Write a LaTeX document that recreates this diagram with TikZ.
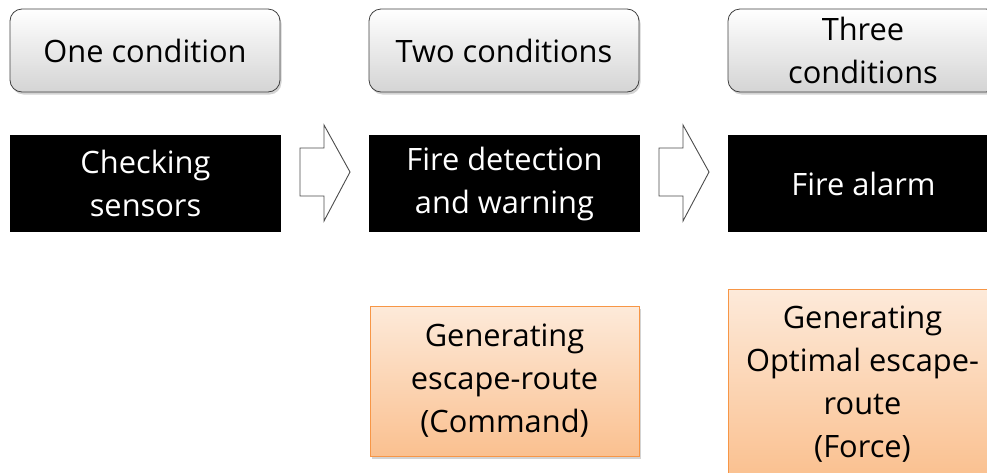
\documentclass[tikz,border=0pt]{standalone}
\usepackage{fontspec}
\setmainfont{Open Sans}
\usetikzlibrary{shadows,calc}
\definecolor{orborder}{HTML}{F79646}
\definecolor{ortop}{HTML}{FDEADA}
\definecolor{orbot}{HTML}{FAC08F}
\definecolor{grbot}{HTML}{D4D4D4}
\begin{document}
\begin{tikzpicture}[x=1pt,y=-1pt,
  txt/.style={font=\fontsize{30.8}{43}\selectfont, align=center, inner sep=0pt},
  cond/.style={txt, draw=black!75, line width=0.8pt, rounded corners=12pt,
    top color=white, bottom color=grbot, minimum width=270pt, minimum height=83pt,
    drop shadow={shadow xshift=1.5pt, shadow yshift=-2.5pt, opacity=0.35}},
  blk/.style={txt, fill=black, text=white, minimum width=271pt, minimum height=97pt},
  orng/.style={txt, draw=orborder, line width=0.8pt, top color=ortop, bottom color=orbot,
    minimum width=269pt,
    drop shadow={shadow xshift=2pt, shadow yshift=-3pt, opacity=0.35}},
  blockarrow/.style={draw=black!70, line width=0.9pt, fill=white}
]
\useasboundingbox (0,0) rectangle (987,472);
\clip (0,0) rectangle (987,472);

\node[cond] (c1) at (145,50.5) {One condition};
\node[cond] (c2) at (504,50.5) {Two conditions};
\node[cond] (c3) at (863,50.5) {Three\\conditions};

\node[blk] (b1) at (145.5,183.5) {Checking\\sensors};
\node[blk] (b2) at (504.5,183.5) {Fire detection\\and warning};
\node[blk] (b3) at (863.5,183.5) {Fire alarm};

\node[orng, minimum height=150pt] (o1) at (504.5,381) {Generating\\escape-route\\(Command)};
\node[orng, minimum height=190pt] (o2) at (862.5,384) {Generating\\Optimal escape-\\route\\(Force)};

\foreach \a/\b/\m in {b1/b2/m1, b2/b3/m2}{
  \coordinate (\m) at ($(\a.east)!0.5!(\b.west)$);
  \draw[blockarrow] ($(\m)+(-25,-35.5)$) -- ($(\m)+(-1,-35.5)$) -- ($(\m)+(-1,-58.5)$)
    -- ($(\m)+(25,-11.5)$) -- ($(\m)+(-1,37.5)$) -- ($(\m)+(-1,12.5)$)
    -- ($(\m)+(-25,12.5)$) -- cycle;
}
\end{tikzpicture}
\end{document}
